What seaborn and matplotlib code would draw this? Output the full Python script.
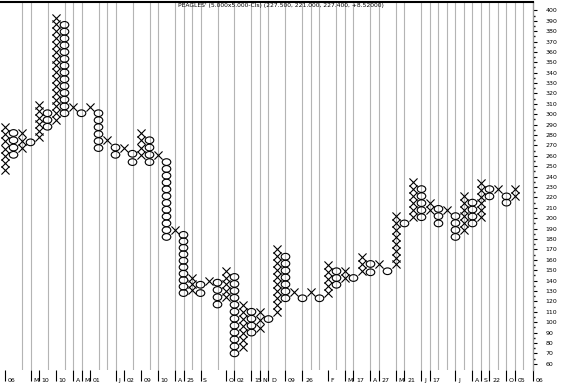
import numpy as np
import pandas as pd
import matplotlib
matplotlib.use("Agg")
import matplotlib.pyplot as plt
import seaborn as sns
from matplotlib.path import Path
from matplotlib.transforms import Affine2D, blended_transform_factory

# ---- data: point & figure columns (type, top price, bottom price) ----
col_types = ["X", "O", "X", "O", "X", "O", "X", "O", "X", "O",
             "X", "O", "X", "O", "X", "O", "X", "O", "X", "O",
             "X", "O", "X", "O", "X", "O", "X", "O", "X", "O",
             "X", "O", "X", "O", "X", "O", "X", "O", "X", "O",
             "X", "O", "X", "O", "X", "O", "X", "O", "X", "O",
             "X", "O", "X", "O", "X", "O", "X", "O", "X", "O",
             "X"]
col_highs = [288, 282, 282, 273, 309, 301, 393, 386, 307, 301,
             307, 301, 275, 268, 268, 262, 282, 275, 261, 254,
             189, 184, 142.5, 136, 140, 138, 149, 143.5, 117, 110,
             110, 103, 170, 163, 129, 123, 129, 123, 155, 149,
             149, 142.5, 163, 156, 156, 149, 202, 195, 235, 228,
             214.5, 209, 208, 202, 221, 215, 234, 228, 228, 221,
             228]
col_lows = [246, 261, 267.5, 273, 278, 288, 294.5, 301, 307, 301,
            307, 267.5, 275, 261, 268, 254, 261, 254, 261, 182,
            189, 128, 131, 128, 140, 117, 124, 70, 76, 90,
            94.5, 103, 109.5, 123, 129, 123, 129, 123, 128, 136,
            142.5, 142.5, 149, 148, 156, 149, 155.5, 195, 201.5, 201,
            208, 195, 208, 182, 189, 195, 201, 221, 228, 215,
            221]
BOX = 6.5

# date separators (column index) and bottom labels
line_cols = [2, 3, 5, 7, 8, 9, 11, 12, 13, 15, 17, 18, 20, 21, 22, 23, 25, 27,
             29, 30, 31, 33, 35, 36, 37, 39, 40, 41, 43, 44, 46, 47, 49, 50, 51,
             52, 53, 54, 55, 56, 57, 58, 59, 60, 61]
x_labels = ["06", "M", "10", "10", "A", "M", "01", "J", "02", "09", "10", "A",
            "25", "S", "O", "02", "15", "N", "D", "09", "26", "F", "M", "17",
            "A", "27", "M", "21", "J", "17", "J", "A", "S", "22", "O", "05", "06"]
x_label_cols = [0, 3, 4, 6, 8, 9, 10, 13, 14, 16, 18, 20,
                21, 23, 26, 27, 29, 30, 31, 33, 35, 38, 40, 41,
                43, 44, 46, 47, 49, 50, 53, 55, 56, 57, 59, 60, 62.1]
y_ticks = list(range(60, 401, 10))
title = "PEAGLES' (5.000x5.000-Cls) (227.500, 221.000, 227.400, +8.52000)"

# ---- expand columns into boxes ----
rows = []
for i, (t, h, l) in enumerate(zip(col_types, col_highs, col_lows)):
    n = int(round((h - l) / BOX))
    vals = np.linspace(l, h, n + 1) if n > 0 else [h]
    for v in vals:
        rows.append((i, v, t))
df = pd.DataFrame(rows, columns=["col", "price", "kind"])

sns.set_style("white")
plt.rcParams["font.family"] = ["DejaVu Sans"]

fig = plt.figure(figsize=(5.62, 3.85), dpi=100)
ax = fig.add_axes([0, 15 / 385, 533 / 562, 368 / 385])
ax.set_xlim(-0.59, 62.12)
ax.set_ylim(54, 408)

for c in line_cols:
    ax.axvline(c, color="#b4b4b4", lw=0.8, zorder=0)

sns.scatterplot(data=df[df.kind == "X"], x="col", y="price", marker="x",
                s=34, color="black", linewidth=0.8, ax=ax, legend=False, zorder=3)
ellipse = Path.unit_circle().transformed(Affine2D().scale(1.0, 0.78))
sns.scatterplot(data=df[df.kind == "O"], x="col", y="price", marker=ellipse,
                s=38, color="black", linewidth=0.8, ax=ax, legend=False, zorder=3)
ax.collections[-1].set_facecolor("none")
ax.collections[-1].set_edgecolor("black")

ax.set_xlabel("")
ax.set_ylabel("")
ax.grid(False)

# y axis on right
ax.yaxis.tick_right()
ax.set_yticks(y_ticks)
ax.set_yticklabels([str(v) for v in y_ticks])
ax.set_yticks([v + 5 for v in y_ticks[:-1]], minor=True)
ax.tick_params(axis="y", which="major", length=3, width=0.8, pad=6,
               labelsize=4.5, colors="black", direction="out", right=True, left=False)
ax.tick_params(axis="y", which="minor", length=1.2, width=1.0,
               colors="black", direction="out", right=True, left=False)

# x ticks as label markers
ax.set_xticks(x_label_cols)
ax.set_xticklabels([])
ax.tick_params(axis="x", which="major", length=8, width=0.8, color="black",
               direction="out", bottom=True)
trans = blended_transform_factory(ax.transData, ax.transAxes)
for c, lab in zip(x_label_cols, x_labels):
    ax.text(c + 0.3, -0.028, lab, transform=trans, ha="left", va="center",
            fontsize=4.5, color="black", clip_on=False)

for side in ["left", "bottom"]:
    ax.spines[side].set_visible(False)
ax.spines["top"].set_color("black")
ax.spines["top"].set_linewidth(1.5)
ax.spines["right"].set_color("#9a9a9a")
ax.spines["right"].set_linewidth(1.0)

fig.text(281 / 562, 1 - 6 / 385, title, ha="center", va="center",
         fontsize=4.3, color="black")

fig.savefig("out.png", dpi=100)
